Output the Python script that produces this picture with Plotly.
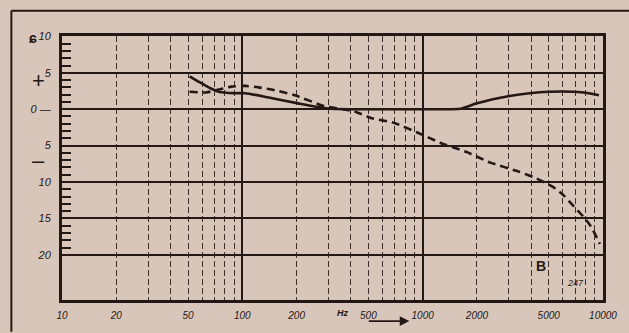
import plotly.graph_objects as go

# ---- data ----
solid_freq = [51, 57, 65, 74, 90, 104, 140, 204, 298, 385, 600, 1000, 1450, 1650, 2000, 3030, 3910, 5040, 6820, 8360, 9500]
solid_db   = [4.5, 3.8, 3.0, 2.4, 2.2, 2.2, 1.6, 0.8, 0.1, 0.0, 0.0, 0.0, 0.0, 0.1, 0.8, 1.8, 2.2, 2.4, 2.4, 2.2, 1.9]

dashed_freq = [51, 63, 87, 104, 123, 152, 196, 287, 360, 420, 515, 698, 933, 1250, 1760, 2350, 3440, 4270, 5300, 6090, 6920, 7750, 8570, 9610]
dashed_db   = [2.4, 2.3, 3.1, 3.2, 3.0, 2.6, 1.9, 0.4, 0.0, -0.3, -1.2, -1.9, -3.2, -4.6, -5.9, -7.3, -8.6, -9.5, -10.7, -11.9, -13.4, -14.7, -16.1, -18.5]

x_tickvals = [10, 20, 50, 100, 200, 500, 1000, 2000, 5000, 10000]
x_ticktext = ["10", "20", "50", "100", "200", "500", "1000", "2000", "5000", "10000"]
x_minor = [m * d for d in (10, 100, 1000) for m in range(2, 10)]
x_decades = [100, 1000]

y_tickvals = [10, 5, 0, -5, -10, -15, -20]
y_ticktext = ["10", "5", "0 \u2014", "5", "10", "15", "20"]
y_minor = [v for v in range(-20, 11) if v % 5 != 0]

INK = "#241814"
PAPER = "#d8c6bb"

fig = go.Figure()
fig.add_trace(go.Scatter(x=solid_freq, y=solid_db, mode="lines",
                         line=dict(color=INK, width=2.6, shape="spline", smoothing=0.6),
                         hoverinfo="skip", showlegend=False))
fig.add_trace(go.Scatter(x=dashed_freq, y=dashed_db, mode="lines", xaxis="x2",
                         line=dict(color=INK, width=2.6, dash="8px,5px", shape="spline", smoothing=0.5),
                         hoverinfo="skip", showlegend=False))

xtickfont = dict(family="Liberation Sans", size=10, color=INK, style="italic")
ytickfont = dict(family="Liberation Sans", size=11, color=INK, style="italic")

fig.update_layout(
    width=629, height=333,
    margin=dict(l=62, r=22, t=36, b=27),
    paper_bgcolor=PAPER, plot_bgcolor=PAPER,
    xaxis=dict(type="log", range=[1, 4], tickvals=x_tickvals, ticktext=x_ticktext,
               tickfont=xtickfont, showgrid=False, zeroline=False,
               showline=True, mirror=True, linewidth=3, linecolor=INK,
               ticks="", ticklabelstandoff=4,
               minor=dict(tickvals=x_minor, showgrid=True, gridcolor="#3e302a",
                          griddash="6px,3px", gridwidth=1.4, ticks="")),
    xaxis2=dict(type="log", range=[1, 4], overlaying="x", tickvals=x_decades,
                showticklabels=False, showgrid=True, gridcolor=INK, gridwidth=2.2,
                zeroline=False, ticks=""),
    yaxis=dict(range=[-26.2, 10.05], tickvals=y_tickvals, ticktext=y_ticktext,
               tickfont=ytickfont, showgrid=True, gridcolor=INK, gridwidth=2.4,
               zeroline=False, showline=True, mirror=True, linewidth=3, linecolor=INK,
               ticks="", ticklabelstandoff=6,
               minor=dict(tickvals=y_minor, ticks="inside", ticklen=9, tickwidth=2,
                          tickcolor=INK, showgrid=False)),
)

# outer frame of the printed figure (left and top rules)
fig.add_shape(type="line", xref="paper", yref="paper", x0=-0.0936, x1=1.06, y0=1.096, y1=1.096,
              line=dict(color=INK, width=2))
fig.add_shape(type="line", xref="paper", yref="paper", x0=-0.0936, x1=-0.0936, y0=1.096, y1=-0.12,
              line=dict(color=INK, width=2))

ann_font = dict(family="Liberation Sans", color=INK)
fig.add_annotation(xref="paper", yref="paper", x=-0.06, y=0.885, text="+", showarrow=False,
                   font=dict(size=22, **ann_font))
fig.add_annotation(xref="paper", yref="paper", x=-0.06, y=0.53, text="\u2013", showarrow=False,
                   font=dict(size=22, **ann_font))
fig.add_annotation(xref="paper", yref="paper", x=-0.064, y=1.03, text="<b>\u0255</b>", showarrow=False,
                   font=dict(size=14, **ann_font))
fig.add_annotation(xref="paper", yref="paper", x=0.898, y=0.09, text="<b>B</b>", showarrow=False,
                   font=dict(size=14, **ann_font))
fig.add_annotation(xref="paper", yref="paper", x=0.969, y=0.037, text="<i>247</i>", showarrow=False,
                   font=dict(size=9, **ann_font))
fig.add_annotation(xref="paper", yref="paper", x=0.519, y=-0.075, text="<i><b>Hz</b></i>", showarrow=False,
                   font=dict(size=9, **ann_font))
fig.add_annotation(xref="paper", yref="paper", x=0.642, y=-0.08, ax=-42, ay=0,
                   axref="pixel", ayref="pixel", text="", showarrow=True,
                   arrowhead=2, arrowsize=1.2, arrowwidth=1.6, arrowcolor=INK)

post = (
    "document.documentElement.style.overflow='hidden';"
    "document.documentElement.style.height='333px';"
    "document.body.style.margin='0';"
    "document.body.style.height='333px';"
    "document.body.style.overflow='hidden';"
    "document.body.style.background='%s';" % PAPER
)
fig.write_html("out.html", config={"displayModeBar": False}, post_script=post)
